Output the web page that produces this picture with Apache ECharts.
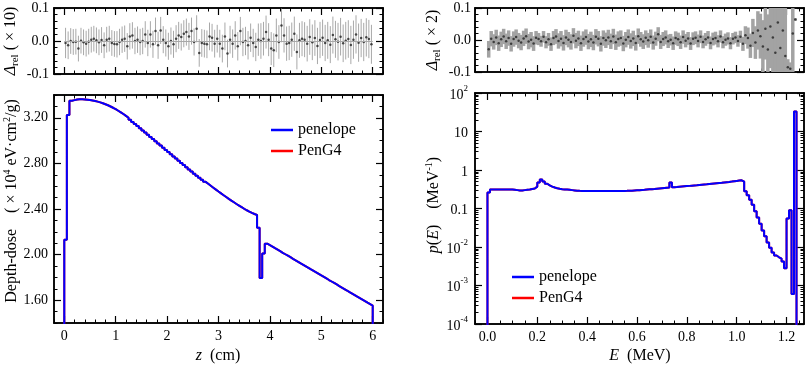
<!DOCTYPE html>
<html lang="en">
<head>
<meta charset="utf-8">
<title>penelope vs PenG4</title>
<script src="https://cdn.jsdelivr.net/npm/echarts@6/dist/echarts.min.js"></script>
</head>
<body style="margin:0">
<div id="main" style="width:809px;height:366px;"></div>
<script>
// depth-dose histogram, bins of 0.05 cm starting at z = 0
const doseStep = 0.05;
const doseBins = [
  2.13, 3.225, 3.35, 3.355, 3.36, 3.362, 3.362, 3.361, 3.359, 3.356,
  3.352, 3.348, 3.342, 3.335, 3.328, 3.319, 3.31, 3.299, 3.288, 3.276,
  3.262, 3.248, 3.233, 3.217, 3.2, 3.182, 3.164, 3.146, 3.127, 3.108,
  3.089, 3.07, 3.051, 3.032, 3.013, 2.994, 2.975, 2.956, 2.937, 2.918,
  2.899, 2.88, 2.861, 2.842, 2.823, 2.804, 2.785, 2.766, 2.747, 2.728,
  2.71, 2.692, 2.674, 2.656, 2.638, 2.621, 2.604, 2.587, 2.57, 2.553,
  2.537, 2.521, 2.505, 2.489, 2.474, 2.459, 2.444, 2.43, 2.416, 2.402,
  2.389, 2.377, 2.366, 2.356, 2.347, 2.235, 1.795, 2.01, 2.096, 2.083,
  2.07, 2.056, 2.043, 2.03, 2.016, 2.003, 1.99, 1.977, 1.963, 1.95,
  1.937, 1.923, 1.91, 1.897, 1.884, 1.87, 1.857, 1.844, 1.831, 1.817,
  1.804, 1.791, 1.777, 1.764, 1.751, 1.738, 1.724, 1.711, 1.698, 1.685,
  1.671, 1.658, 1.645, 1.631, 1.618, 1.605, 1.592, 1.578, 1.565, 1.552
];
const doseResid = [
  -0.006, -0.013, 0.000, -0.003, -0.002, -0.023, 0.001, -0.004, -0.008, -0.002,
  0.004, 0.007, 0.002, -0.004, 0.003, -0.013, 0.004, 0.007, -0.006, -0.009,
  -0.010, -0.003, 0.004, 0.007, -0.016, 0.014, 0.017, 0.000, 0.004, -0.003,
  0.000, 0.020, -0.006, 0.020, -0.010, 0.030, -0.013, 0.032, 0.004, -0.006,
  -0.016, 0.000, -0.010, 0.007, 0.017, 0.012, 0.022, 0.027, 0.014, 0.030,
  -0.003, 0.037, -0.036, -0.006, -0.008, -0.010, 0.014, 0.010, -0.008, 0.007,
  -0.008, -0.023, 0.014, -0.038, 0.004, -0.008, 0.017, -0.016, 0.030, -0.003,
  0.000, -0.013, 0.010, -0.006, -0.018, 0.004, 0.000, 0.007, 0.027, 0.004,
  -0.023, -0.028, 0.017, -0.003, 0.047, 0.017, -0.008, -0.006, 0.004, 0.022,
  -0.033, 0.002, 0.007, 0.004, -0.008, 0.012, -0.004, 0.009, -0.015, 0.003,
  0.010, -0.006, 0.002, -0.011, 0.018, 0.005, -0.002, 0.013, -0.007, 0.001,
  0.006, -0.012, 0.004, 0.020, -0.005, 0.009, -0.003, 0.011, 0.006, -0.010
];
const doseErr = [
  0.046, 0.042, 0.039, 0.039, 0.039, 0.039, 0.039, 0.039, 0.039, 0.039,
  0.039, 0.039, 0.039, 0.039, 0.039, 0.039, 0.039, 0.039, 0.039, 0.039,
  0.040, 0.040, 0.040, 0.040, 0.040, 0.040, 0.040, 0.040, 0.040, 0.040,
  0.040, 0.040, 0.040, 0.040, 0.041, 0.041, 0.041, 0.041, 0.041, 0.041,
  0.041, 0.041, 0.041, 0.041, 0.041, 0.041, 0.041, 0.041, 0.041, 0.041,
  0.041, 0.041, 0.042, 0.042, 0.042, 0.042, 0.042, 0.042, 0.042, 0.042,
  0.042, 0.042, 0.042, 0.042, 0.042, 0.043, 0.043, 0.043, 0.043, 0.043,
  0.043, 0.043, 0.043, 0.043, 0.043, 0.049, 0.054, 0.051, 0.050, 0.050,
  0.050, 0.051, 0.051, 0.051, 0.051, 0.052, 0.052, 0.052, 0.052, 0.052,
  0.053, 0.053, 0.053, 0.053, 0.054, 0.054, 0.054, 0.054, 0.055, 0.055,
  0.055, 0.055, 0.056, 0.056, 0.056, 0.056, 0.057, 0.057, 0.057, 0.057,
  0.057, 0.058, 0.058, 0.058, 0.058, 0.058, 0.058, 0.058, 0.058, 0.059
];

// energy spectrum, bins of 0.01 MeV starting at E = 0
const eStep = 0.01;
const specBins = [
  0.26, 0.31, 0.31, 0.31, 0.31, 0.31, 0.31, 0.31, 0.31, 0.31,
  0.305, 0.30, 0.295, 0.295, 0.30, 0.305, 0.31, 0.32, 0.33, 0.37,
  0.47, 0.57, 0.50, 0.44, 0.40, 0.37, 0.35, 0.335, 0.325, 0.318,
  0.313, 0.31, 0.305, 0.30, 0.295, 0.29, 0.287, 0.285, 0.284, 0.283,
  0.283, 0.283, 0.283, 0.283, 0.283, 0.283, 0.283, 0.283, 0.283, 0.283,
  0.283, 0.283, 0.284, 0.285, 0.286, 0.287, 0.289, 0.291, 0.294, 0.297,
  0.30, 0.303, 0.306, 0.31, 0.314, 0.318, 0.322, 0.327, 0.332, 0.337,
  0.342, 0.347, 0.352, 0.47, 0.358, 0.362, 0.367, 0.372, 0.377, 0.382,
  0.387, 0.392, 0.397, 0.402, 0.408, 0.414, 0.42, 0.426, 0.433, 0.44,
  0.447, 0.454, 0.461, 0.467, 0.475, 0.483, 0.491, 0.50, 0.51, 0.52,
  0.53, 0.54, 0.50, 0.28, 0.22, 0.17, 0.125, 0.085, 0.058, 0.04,
  0.027, 0.019, 0.013, 0.0095, 0.0072, 0.006, 0.0054, 0.005, 0.0042, 0.0028,
  0.055, 0.09, 0.0006, 33
];
const specResid = [
  -0.029, 0.004, -0.006, 0.008, -0.010, 0.002, 0.011, -0.004, 0.006, -0.012,
  0.003, 0.009, -0.002, -0.008, 0.005, 0.012, -0.005, 0.001, -0.011, 0.007,
  0.003, -0.004, 0.010, -0.007, 0.002, -0.013, 0.006, 0.011, -0.003, 0.004,
  -0.009, 0.008, 0.001, -0.006, 0.013, -0.002, 0.005, -0.010, 0.003, 0.009,
  -0.005, 0.002, -0.008, 0.010, 0.004, -0.012, 0.006, -0.001, 0.008, -0.004,
  0.011, -0.007, 0.003, 0.006, -0.011, 0.001, 0.009, -0.003, 0.005, -0.009,
  0.012, 0.002, -0.005, 0.007, -0.001, 0.010, -0.008, 0.004, 0.018, -0.006,
  0.003, 0.008, -0.004, 0.001, -0.010, 0.006, 0.002, -0.007, 0.009, -0.002,
  0.005, -0.011, 0.004, 0.007, -0.003, 0.010, -0.006, 0.002, 0.008, -0.009,
  0.003, 0.006, -0.004, 0.011, -0.007, 0.001, 0.005, -0.010, 0.004, 0.008,
  -0.003, 0.010, -0.012, 0.015, 0.006, -0.018, 0.022, -0.008, 0.030, 0.012,
  -0.020, 0.035, -0.030, 0.042, 0.008, -0.040, 0.055, -0.025, 0.030, -0.050,
  -0.085, -0.090, 0.020, 0.064
];
const specErr = [
  0.026, 0.024, 0.024, 0.024, 0.024, 0.024, 0.024, 0.024, 0.024, 0.024,
  0.024, 0.024, 0.024, 0.024, 0.024, 0.024, 0.024, 0.024, 0.023, 0.021,
  0.019, 0.017, 0.018, 0.019, 0.020, 0.021, 0.022, 0.023, 0.024, 0.024,
  0.024, 0.024, 0.024, 0.024, 0.024, 0.024, 0.024, 0.024, 0.024, 0.024,
  0.024, 0.024, 0.024, 0.024, 0.024, 0.024, 0.024, 0.024, 0.024, 0.024,
  0.024, 0.024, 0.024, 0.024, 0.024, 0.024, 0.024, 0.024, 0.024, 0.024,
  0.024, 0.023, 0.023, 0.023, 0.023, 0.023, 0.022, 0.022, 0.022, 0.022,
  0.022, 0.022, 0.021, 0.018, 0.021, 0.021, 0.021, 0.021, 0.021, 0.021,
  0.020, 0.020, 0.020, 0.020, 0.020, 0.020, 0.020, 0.020, 0.020, 0.020,
  0.020, 0.020, 0.019, 0.019, 0.019, 0.019, 0.019, 0.019, 0.018, 0.018,
  0.018, 0.019, 0.022, 0.028, 0.033, 0.038, 0.044, 0.051, 0.060, 0.070,
  0.082, 0.096, 0.110, 0.130, 0.150, 0.170, 0.190, 0.200, 0.200, 0.200,
  0.025, 0.020, 0.300, 0.004
];

// tick values
const zMajor = [0, 1, 2, 3, 4, 5, 6];
const eMajor = [0, 0.2, 0.4, 0.6, 0.8, 1.0, 1.2];
const doseMajor = [1.6, 2.0, 2.4, 2.8, 3.2];
const residMajor = [-0.1, 0, 0.1];
const pMajor = [1e-4, 1e-3, 1e-2, 1e-1, 1, 10, 100];

const SERIF = "'Liberation Serif', 'DejaVu Serif', serif";

function stepTicks(from, to, step) {
  const out = [];
  const n = Math.round((to - from) / step);
  for (let i = 0; i <= n; i++) out.push(+(from + i * step).toFixed(6));
  return out;
}
function logMinor(lo, hi) {
  const out = [];
  for (let e = lo; e < hi; e++) for (let m = 2; m <= 9; m++) out.push(m * Math.pow(10, e));
  return out;
}

function sideAxes(grid, pos, min, max, major, minor, label, log) {
  const base = {
    type: log ? 'log' : 'value', gridIndex: grid, position: pos, min: min, max: max,
    axisLine: { show: true, onZero: false, lineStyle: { color: '#000', width: 1.5 } },
    splitLine: { show: false }, axisPointer: { show: false }
  };
  if (log) base.logBase = 10;
  const majorAxis = Object.assign({}, base, {
    axisTick: { show: true, inside: true, length: 7, customValues: major, lineStyle: { color: '#000', width: 1.2 } },
    axisLabel: label || { show: false }
  });
  const minorAxis = Object.assign({}, base, {
    axisTick: { show: true, inside: true, length: 3.5, customValues: minor, lineStyle: { color: '#000', width: 1 } },
    axisLabel: { show: false }
  });
  return [majorAxis, minorAxis];
}
function lbl(values, fmt, margin, extra) {
  return Object.assign({ show: true, customValues: values, formatter: fmt, margin: margin,
    color: '#000', fontFamily: SERIF, fontSize: 14 }, extra || {});
}

const zMinor = stepTicks(-0.2, 6.2, 0.2);
const eMinor = stepTicks(-0.05, 1.25, 0.05);
const doseMinor = stepTicks(1.4, 3.4, 0.1);
const residMinor = stepTicks(-0.1, 0.1, 0.02);
const pMinor = logMinor(-4, 2);

const supRich = {
  b: { fontFamily: SERIF, fontSize: 14, color: '#000', lineHeight: 18, verticalAlign: 'bottom' },
  s: { fontFamily: SERIF, fontSize: 9, color: '#000', lineHeight: 18, verticalAlign: 'top' }
};
function pLabel(v) {
  const e = Math.round(Math.log10(v));
  if (e === 1) return '{b|10}';
  if (e === 0) return '{b|1}';
  if (e === -1) return '{b|0.1}';
  return '{b|10}{s|' + e + '}';
}

const xAxis = [].concat(
  sideAxes(0, 'bottom', -0.2, 6.2, zMajor, zMinor),
  sideAxes(0, 'top', -0.2, 6.2, zMajor, zMinor),
  sideAxes(1, 'bottom', -0.2, 6.2, zMajor, zMinor, lbl(zMajor, v => String(v), 6)),
  sideAxes(1, 'top', -0.2, 6.2, zMajor, zMinor),
  sideAxes(2, 'bottom', -0.05, 1.27, eMajor, eMinor),
  sideAxes(2, 'top', -0.05, 1.27, eMajor, eMinor),
  sideAxes(3, 'bottom', -0.05, 1.27, eMajor, eMinor, lbl(eMajor, v => v.toFixed(1), 6)),
  sideAxes(3, 'top', -0.05, 1.27, eMajor, eMinor)
);
const yAxis = [].concat(
  sideAxes(0, 'left', -0.1, 0.1, residMajor, residMinor, lbl(residMajor, v => v.toFixed(1), 5)),
  sideAxes(0, 'right', -0.1, 0.1, residMajor, residMinor),
  sideAxes(1, 'left', 1.4, 3.4, doseMajor, doseMinor, lbl(doseMajor, v => v.toFixed(2), 6)),
  sideAxes(1, 'right', 1.4, 3.4, doseMajor, doseMinor),
  sideAxes(2, 'left', -0.1, 0.1, residMajor, residMinor, lbl(residMajor, v => v.toFixed(1), 4)),
  sideAxes(2, 'right', -0.1, 0.1, residMajor, residMinor),
  sideAxes(3, 'left', 1e-4, 100, pMajor, pMinor, lbl(pMajor, pLabel, 7, { rich: supRich }), true),
  sideAxes(3, 'right', 1e-4, 100, pMajor, pMinor, null, true)
);

const doseLine = [[0, 1.0]]
  .concat(doseBins.map((v, i) => [i * doseStep, v]))
  .concat([[doseBins.length * doseStep, 1.0]]);
const specLine = [[0, 1e-6]]
  .concat(specBins.map((v, i) => [+(i * eStep).toFixed(3), v]))
  .concat([[+(specBins.length * eStep).toFixed(3), 1e-6]]);
const doseResidData = doseResid.map((r, i) => [(i + 0.5) * doseStep, r, doseErr[i]]);
const specResidData = specResid.map((r, i) => [(i + 0.5) * eStep, r, specErr[i]]);

function barItem(params, api) {
  const x = api.value(0), y = api.value(1), e = api.value(2);
  const hi = api.coord([x, y + e]), lo = api.coord([x, y - e]);
  const cs = params.coordSys;
  return {
    type: 'line',
    shape: { x1: hi[0], y1: Math.max(hi[1], cs.y), x2: lo[0], y2: Math.min(lo[1], cs.y + cs.height) },
    style: { stroke: '#a8a8a8', lineWidth: 1 }
  };
}
function bandItem(params, api) {
  const x = api.value(0), y = api.value(1), e = api.value(2);
  const a = api.coord([x - eStep / 2, y + e]), b = api.coord([x + eStep / 2, y - e]);
  const cs = params.coordSys;
  const top = Math.max(a[1], cs.y), bot = Math.min(b[1], cs.y + cs.height);
  return {
    type: 'rect',
    shape: { x: a[0] - 0.5, y: top, width: b[0] - a[0] + 1, height: bot - top },
    style: { fill: '#a3a3a3' }
  };
}

const titleRich = {
  r: { fontFamily: SERIF, fontSize: 16, fill: '#000', lineHeight: 20, verticalAlign: 'middle' },
  i: { fontFamily: SERIF, fontSize: 16, fontStyle: 'italic', fill: '#000', lineHeight: 20, verticalAlign: 'middle' },
  s: { fontFamily: SERIF, fontSize: 11, fill: '#000', lineHeight: 20, verticalAlign: 'bottom' },
  p: { fontFamily: SERIF, fontSize: 10, fill: '#000', lineHeight: 20, verticalAlign: 'top' }
};
function title(x, y, text, rot) {
  return { type: 'text', x: x, y: y, rotation: rot ? Math.PI / 2 : 0, silent: true,
    style: { text: text, rich: titleRich, align: 'center', verticalAlign: 'middle' } };
}

const legendBase = {
  orient: 'vertical', data: ['penelope', 'PenG4'], icon: 'rect', itemWidth: 22, itemHeight: 2.5,
  itemGap: 5, selectedMode: false, textStyle: { fontFamily: SERIF, fontSize: 16, color: '#000' }
};

const myChart = echarts.init(document.getElementById('main'));
myChart.setOption({
  animation: false,
  backgroundColor: '#fff',
  grid: [
    { left: 54, top: 8, width: 329, height: 66, outerBoundsMode: 'none' },
    { left: 54, top: 95, width: 329, height: 228, outerBoundsMode: 'none' },
    { left: 475, top: 8, width: 329, height: 64, outerBoundsMode: 'none' },
    { left: 475, top: 93, width: 329, height: 231, outerBoundsMode: 'none' }
  ],
  xAxis: xAxis,
  yAxis: yAxis,
  legend: [
    Object.assign({ left: 266, top: 117 }, legendBase),
    Object.assign({ left: 507, top: 264 }, legendBase)
  ],
  graphic: [
    title(11, 41, '{i|Δ}{s|rel}{r| ( × 10)}', true),
    title(433, 40, '{i|Δ}{s|rel}{r| ( × 2)}', true),
    title(12, 201, '{r|Depth-dose    ( × 10}{p|4}{r| eV·cm}{p|2}{r|/g)}', true),
    title(434, 205, '{i|p}{r|(}{i|E}{r|)    (MeV}{p|-1}{r|)}', true),
    title(218, 356, '{i|z}{r|  (cm)}'),
    title(640, 356, '{i|E}{r|  (MeV)}')
  ],
  series: [
    { name: 'PenG4', type: 'line', xAxisIndex: 4, yAxisIndex: 4, data: doseLine, step: 'end',
      showSymbol: false, color: '#ff0000', lineStyle: { width: 2 } },
    { name: 'penelope', type: 'line', xAxisIndex: 4, yAxisIndex: 4, data: doseLine, step: 'end',
      showSymbol: false, color: '#0000ff', lineStyle: { width: 2 } },
    { name: 'PenG4', type: 'line', xAxisIndex: 12, yAxisIndex: 12, data: specLine, step: 'end',
      showSymbol: false, color: '#ff0000', lineStyle: { width: 2 } },
    { name: 'penelope', type: 'line', xAxisIndex: 12, yAxisIndex: 12, data: specLine, step: 'end',
      showSymbol: false, color: '#0000ff', lineStyle: { width: 2 } },
    { type: 'custom', xAxisIndex: 0, yAxisIndex: 0, data: doseResidData, renderItem: barItem,
      encode: { x: 0, y: 1 }, silent: true },
    { type: 'scatter', xAxisIndex: 0, yAxisIndex: 0, data: doseResidData, symbolSize: 2.5,
      itemStyle: { color: '#222' }, silent: true,
      markLine: { silent: true, symbol: 'none', label: { show: false },
        lineStyle: { color: '#a8a8a8', width: 1, type: 'solid' },
        data: [[{ coord: [0, 0] }, { coord: [6, 0] }]] } },
    { type: 'custom', xAxisIndex: 8, yAxisIndex: 8, data: specResidData, renderItem: bandItem,
      encode: { x: 0, y: 1 }, silent: true },
    { type: 'scatter', xAxisIndex: 8, yAxisIndex: 8, data: specResidData, symbolSize: 2.5,
      itemStyle: { color: '#222' }, silent: true }
  ]
});
</script>
</body>
</html>
